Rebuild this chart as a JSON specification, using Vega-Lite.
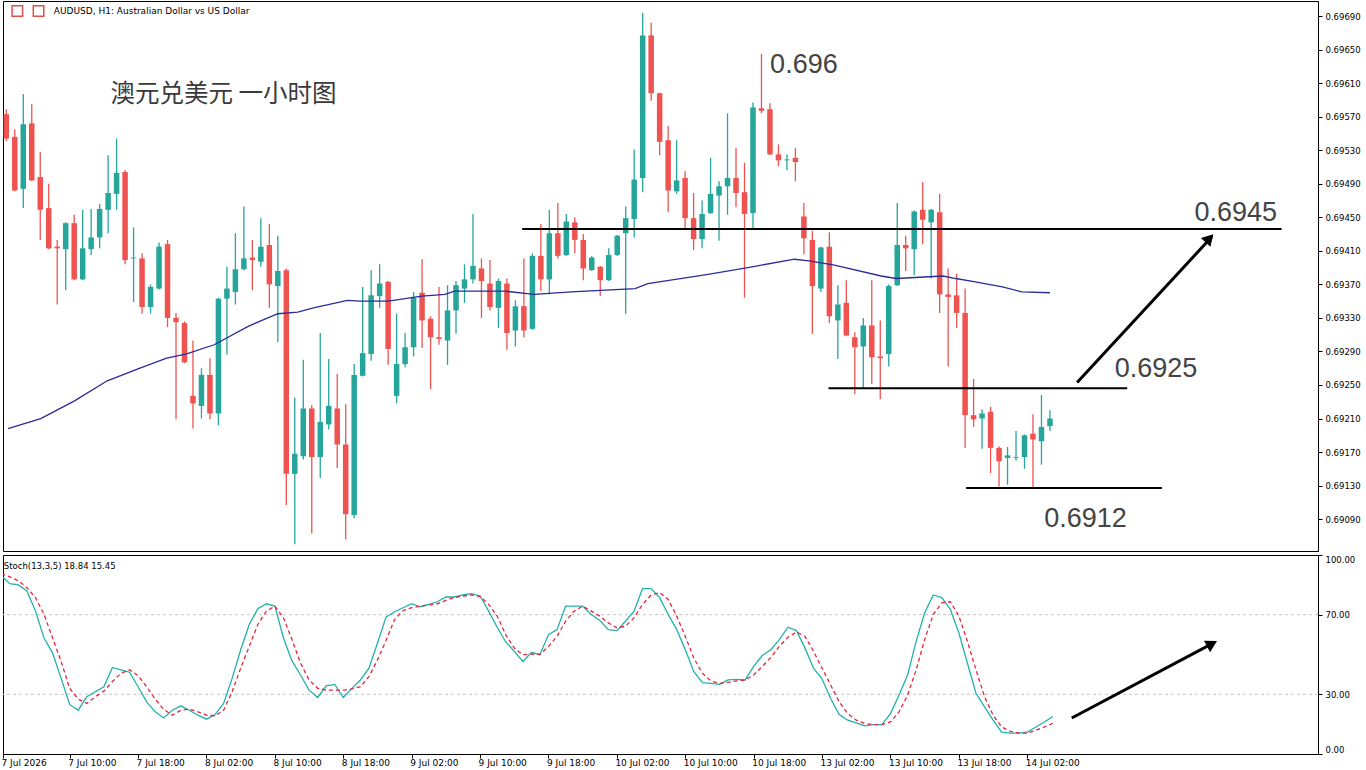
{
  "$schema": "https://vega.github.io/schema/vega-lite/v6.json",
  "padding": 0,
  "background": "#ffffff",
  "spacing": 2,
  "config": {
    "view": {"stroke": "#000000", "strokeWidth": 1},
    "axis": {
      "labelFont": "DejaVu Sans",
      "labelFontSize": 8.5,
      "labelColor": "#000000",
      "tickColor": "#000000",
      "domainColor": "#000000",
      "grid": false
    }
  },
  "datasets": {
    "bars": [
      {"i":0,"o":0.69573,"h":0.69579,"l":0.69541,"c":0.69544,"k":89.5,"d":90.7},
      {"i":1,"o":0.69546,"h":0.69555,"l":0.69481,"c":0.69482,"k":85.6,"d":89},
      {"i":2,"o":0.69484,"h":0.69597,"l":0.69461,"c":0.69561,"k":85,"d":87},
      {"i":3,"o":0.69562,"h":0.69585,"l":0.69493,"c":0.69494,"k":81.9,"d":83.6},
      {"i":4,"o":0.69498,"h":0.69528,"l":0.69423,"c":0.69459,"k":71.8,"d":78.6},
      {"i":5,"o":0.69461,"h":0.69490,"l":0.69412,"c":0.69413,"k":58.3,"d":70.1},
      {"i":6,"o":0.69415,"h":0.69423,"l":0.69346,"c":0.69413,"k":50.7,"d":58.3},
      {"i":7,"o":0.69412,"h":0.69444,"l":0.69363,"c":0.69443,"k":38,"d":46.5},
      {"i":8,"o":0.69443,"h":0.69453,"l":0.69375,"c":0.69376,"k":24.9,"d":33},
      {"i":9,"o":0.69376,"h":0.69459,"l":0.69375,"c":0.69413,"k":22,"d":27.6},
      {"i":10,"o":0.69412,"h":0.69460,"l":0.69405,"c":0.69426,"k":28.8,"d":25.4},
      {"i":11,"o":0.69426,"h":0.69466,"l":0.69413,"c":0.69460,"k":31.3,"d":28.8},
      {"i":12,"o":0.69459,"h":0.69524,"l":0.69431,"c":0.69479,"k":33.8,"d":31.6},
      {"i":13,"o":0.69478,"h":0.69544,"l":0.69459,"c":0.69503,"k":43.5,"d":36.4},
      {"i":14,"o":0.69504,"h":0.69506,"l":0.69394,"c":0.69399,"k":42.3,"d":40.6},
      {"i":15,"o":0.69401,"h":0.69438,"l":0.69349,"c":0.69402,"k":41.1,"d":42.3},
      {"i":16,"o":0.69401,"h":0.69407,"l":0.69335,"c":0.69343,"k":33.8,"d":39.4},
      {"i":17,"o":0.69343,"h":0.69370,"l":0.69335,"c":0.69367,"k":26.2,"d":33.8},
      {"i":18,"o":0.69365,"h":0.69420,"l":0.69364,"c":0.69415,"k":21.2,"d":27.6},
      {"i":19,"o":0.69418,"h":0.69423,"l":0.69319,"c":0.69330,"k":18.1,"d":22.4},
      {"i":20,"o":0.69330,"h":0.69336,"l":0.69209,"c":0.69325,"k":22,"d":19.5},
      {"i":21,"o":0.69324,"h":0.69326,"l":0.69276,"c":0.69277,"k":24.2,"d":22},
      {"i":22,"o":0.69237,"h":0.69303,"l":0.69198,"c":0.69228,"k":22,"d":22.5},
      {"i":23,"o":0.69225,"h":0.69270,"l":0.69210,"c":0.69262,"k":19.5,"d":21.2},
      {"i":24,"o":0.69262,"h":0.69282,"l":0.69209,"c":0.69216,"k":17.5,"d":19.5},
      {"i":25,"o":0.69216,"h":0.69354,"l":0.69202,"c":0.69353,"k":19.8,"d":19.2},
      {"i":26,"o":0.69353,"h":0.69391,"l":0.69286,"c":0.69365,"k":25.4,"d":22},
      {"i":27,"o":0.69361,"h":0.69431,"l":0.69346,"c":0.69388,"k":38,"d":31.3},
      {"i":28,"o":0.69388,"h":0.69463,"l":0.69387,"c":0.69401,"k":52.4,"d":43.1},
      {"i":29,"o":0.69402,"h":0.69423,"l":0.69363,"c":0.69399,"k":65.1,"d":54.1},
      {"i":30,"o":0.69397,"h":0.69449,"l":0.69391,"c":0.69415,"k":73,"d":65.1},
      {"i":31,"o":0.69417,"h":0.69442,"l":0.69342,"c":0.69370,"k":75.5,"d":71.8},
      {"i":32,"o":0.69368,"h":0.69428,"l":0.69301,"c":0.69386,"k":74.3,"d":74.3},
      {"i":33,"o":0.69387,"h":0.69389,"l":0.69107,"c":0.69144,"k":58.3,"d":68.4},
      {"i":34,"o":0.69144,"h":0.69235,"l":0.69060,"c":0.69168,"k":46.8,"d":57.5},
      {"i":35,"o":0.69165,"h":0.69280,"l":0.69161,"c":0.69222,"k":39.7,"d":45.6},
      {"i":36,"o":0.69222,"h":0.69226,"l":0.69073,"c":0.69164,"k":32.1,"d":37.2},
      {"i":37,"o":0.69164,"h":0.69312,"l":0.69139,"c":0.69206,"k":28.4,"d":33},
      {"i":38,"o":0.69203,"h":0.69281,"l":0.69197,"c":0.69225,"k":34.3,"d":32.1},
      {"i":39,"o":0.69222,"h":0.69263,"l":0.69151,"c":0.69179,"k":35,"d":32.1},
      {"i":40,"o":0.69179,"h":0.69227,"l":0.69066,"c":0.69096,"k":28.4,"d":32.1},
      {"i":41,"o":0.69095,"h":0.69275,"l":0.69091,"c":0.69262,"k":33,"d":32.7},
      {"i":42,"o":0.69261,"h":0.69367,"l":0.69260,"c":0.69288,"k":37.2,"d":33.8},
      {"i":43,"o":0.69287,"h":0.69387,"l":0.69279,"c":0.69357,"k":43.1,"d":38.9},
      {"i":44,"o":0.69356,"h":0.69394,"l":0.69342,"c":0.69371,"k":55.8,"d":47.3},
      {"i":45,"o":0.69373,"h":0.69374,"l":0.69274,"c":0.69293,"k":68.8,"d":57},
      {"i":46,"o":0.69237,"h":0.69335,"l":0.69228,"c":0.69275,"k":71.5,"d":67.6},
      {"i":47,"o":0.69275,"h":0.69312,"l":0.69271,"c":0.69295,"k":73.5,"d":72.1},
      {"i":48,"o":0.69295,"h":0.69361,"l":0.69284,"c":0.69354,"k":75.5,"d":73.5},
      {"i":49,"o":0.69360,"h":0.69400,"l":0.69294,"c":0.69327,"k":74,"d":74.3},
      {"i":50,"o":0.69329,"h":0.69332,"l":0.69245,"c":0.69307,"k":75.2,"d":74.8},
      {"i":51,"o":0.69307,"h":0.69367,"l":0.69298,"c":0.69305,"k":76.5,"d":75.5},
      {"i":52,"o":0.69303,"h":0.69369,"l":0.69274,"c":0.69339,"k":78.9,"d":77.2},
      {"i":53,"o":0.69339,"h":0.69374,"l":0.69311,"c":0.69369,"k":78.9,"d":78.6},
      {"i":54,"o":0.69365,"h":0.69394,"l":0.69348,"c":0.69376,"k":79.9,"d":79.4},
      {"i":55,"o":0.69376,"h":0.69454,"l":0.69371,"c":0.69392,"k":80.6,"d":79.9},
      {"i":56,"o":0.69389,"h":0.69401,"l":0.69330,"c":0.69374,"k":79.4,"d":79.1},
      {"i":57,"o":0.69371,"h":0.69399,"l":0.69339,"c":0.69343,"k":71.8,"d":75.2},
      {"i":58,"o":0.69342,"h":0.69377,"l":0.69318,"c":0.69374,"k":63.7,"d":69.3},
      {"i":59,"o":0.69371,"h":0.69377,"l":0.69292,"c":0.69312,"k":56.3,"d":60},
      {"i":60,"o":0.69315,"h":0.69351,"l":0.69296,"c":0.69344,"k":51.6,"d":53.2},
      {"i":61,"o":0.69344,"h":0.69401,"l":0.69307,"c":0.69315,"k":46.5,"d":49.9},
      {"i":62,"o":0.69317,"h":0.69407,"l":0.69316,"c":0.69404,"k":51,"d":50.2},
      {"i":63,"o":0.69404,"h":0.69442,"l":0.69362,"c":0.69376,"k":50,"d":50},
      {"i":64,"o":0.69376,"h":0.69459,"l":0.69358,"c":0.69431,"k":60,"d":54.1},
      {"i":65,"o":0.69431,"h":0.69467,"l":0.69401,"c":0.69404,"k":62.5,"d":59.1},
      {"i":66,"o":0.69405,"h":0.69454,"l":0.69404,"c":0.69445,"k":74.3,"d":66.7},
      {"i":67,"o":0.69444,"h":0.69450,"l":0.69407,"c":0.69423,"k":74.3,"d":71.8},
      {"i":68,"o":0.69423,"h":0.69430,"l":0.69375,"c":0.69389,"k":74.3,"d":74.3},
      {"i":69,"o":0.69387,"h":0.69404,"l":0.69386,"c":0.69402,"k":70.1,"d":71.8},
      {"i":70,"o":0.69391,"h":0.69392,"l":0.69356,"c":0.69375,"k":67.1,"d":69.3},
      {"i":71,"o":0.69375,"h":0.69413,"l":0.69374,"c":0.69405,"k":62.5,"d":65.9},
      {"i":72,"o":0.69405,"h":0.69429,"l":0.69404,"c":0.69428,"k":62,"d":63.4},
      {"i":73,"o":0.69431,"h":0.69463,"l":0.69335,"c":0.69449,"k":66.7,"d":64.2},
      {"i":74,"o":0.69448,"h":0.69531,"l":0.69426,"c":0.69495,"k":71.8,"d":68.4},
      {"i":75,"o":0.69497,"h":0.69694,"l":0.69480,"c":0.69667,"k":83.1,"d":75.2},
      {"i":76,"o":0.69667,"h":0.69682,"l":0.69589,"c":0.69598,"k":83.1,"d":79.9},
      {"i":77,"o":0.69598,"h":0.69599,"l":0.69524,"c":0.69540,"k":78.6,"d":81.1},
      {"i":78,"o":0.69542,"h":0.69559,"l":0.69456,"c":0.69482,"k":70.1,"d":77.7},
      {"i":79,"o":0.69481,"h":0.69542,"l":0.69478,"c":0.69494,"k":62.5,"d":69.3},
      {"i":80,"o":0.69497,"h":0.69505,"l":0.69437,"c":0.69449,"k":52.4,"d":59.1},
      {"i":81,"o":0.69449,"h":0.69479,"l":0.69411,"c":0.69424,"k":41.4,"d":48.2},
      {"i":82,"o":0.69424,"h":0.69470,"l":0.69413,"c":0.69454,"k":35.9,"d":40.6},
      {"i":83,"o":0.69455,"h":0.69521,"l":0.69454,"c":0.69478,"k":35.5,"d":36.7},
      {"i":84,"o":0.69476,"h":0.69493,"l":0.69422,"c":0.69487,"k":35,"d":35.5},
      {"i":85,"o":0.69487,"h":0.69574,"l":0.69453,"c":0.69497,"k":37.2,"d":36},
      {"i":86,"o":0.69497,"h":0.69533,"l":0.69462,"c":0.69479,"k":37.5,"d":36.7},
      {"i":87,"o":0.69480,"h":0.69515,"l":0.69354,"c":0.69454,"k":37.2,"d":37.2},
      {"i":88,"o":0.69455,"h":0.69587,"l":0.69437,"c":0.69581,"k":44,"d":39.7},
      {"i":89,"o":0.69580,"h":0.69645,"l":0.69574,"c":0.69577,"k":49.5,"d":44},
      {"i":90,"o":0.69579,"h":0.69586,"l":0.69524,"c":0.69525,"k":52.4,"d":48.5},
      {"i":91,"o":0.69525,"h":0.69537,"l":0.69511,"c":0.69518,"k":57.5,"d":54.1},
      {"i":92,"o":0.69518,"h":0.69525,"l":0.69506,"c":0.69519,"k":63.7,"d":58.6},
      {"i":93,"o":0.69521,"h":0.69533,"l":0.69493,"c":0.69516,"k":62,"d":61.3},
      {"i":94,"o":0.69451,"h":0.69467,"l":0.69406,"c":0.69425,"k":53.2,"d":59.1},
      {"i":95,"o":0.69423,"h":0.69434,"l":0.69311,"c":0.69368,"k":43.1,"d":51.6},
      {"i":96,"o":0.69365,"h":0.69415,"l":0.69361,"c":0.69414,"k":37.7,"d":43.1},
      {"i":97,"o":0.69415,"h":0.69432,"l":0.69324,"c":0.69332,"k":27.9,"d":34.7},
      {"i":98,"o":0.69327,"h":0.69369,"l":0.69281,"c":0.69346,"k":19.8,"d":26.2},
      {"i":99,"o":0.69348,"h":0.69375,"l":0.69308,"c":0.69309,"k":17,"d":20.3},
      {"i":100,"o":0.69307,"h":0.69313,"l":0.69239,"c":0.69295,"k":15.6,"d":17},
      {"i":101,"o":0.69296,"h":0.69330,"l":0.69246,"c":0.69321,"k":14.1,"d":15.3},
      {"i":102,"o":0.69321,"h":0.69375,"l":0.69251,"c":0.69283,"k":14.8,"d":14.8},
      {"i":103,"o":0.69284,"h":0.69327,"l":0.69233,"c":0.69282,"k":14.8,"d":14.8},
      {"i":104,"o":0.69287,"h":0.69370,"l":0.69272,"c":0.69368,"k":20.3,"d":16.1},
      {"i":105,"o":0.69369,"h":0.69467,"l":0.69368,"c":0.69417,"k":29.6,"d":21.2},
      {"i":106,"o":0.69417,"h":0.69428,"l":0.69386,"c":0.69413,"k":39.7,"d":29.6},
      {"i":107,"o":0.69412,"h":0.69458,"l":0.69381,"c":0.69457,"k":56.6,"d":42.3},
      {"i":108,"o":0.69459,"h":0.69492,"l":0.69418,"c":0.69447,"k":71,"d":57.5},
      {"i":109,"o":0.69444,"h":0.69460,"l":0.69377,"c":0.69459,"k":79.9,"d":70.1},
      {"i":110,"o":0.69456,"h":0.69478,"l":0.69336,"c":0.69358,"k":78.6,"d":76},
      {"i":111,"o":0.69358,"h":0.69389,"l":0.69272,"c":0.69355,"k":72.7,"d":76.5},
      {"i":112,"o":0.69357,"h":0.69383,"l":0.69318,"c":0.69336,"k":60.8,"d":69.3},
      {"i":113,"o":0.69336,"h":0.69365,"l":0.69175,"c":0.69214,"k":45.6,"d":56.6},
      {"i":114,"o":0.69214,"h":0.69257,"l":0.69200,"c":0.69209,"k":30.5,"d":42.3},
      {"i":115,"o":0.69210,"h":0.69221,"l":0.69174,"c":0.69216,"k":23.7,"d":28.8},
      {"i":116,"o":0.69218,"h":0.69224,"l":0.69145,"c":0.69175,"k":17,"d":19.5},
      {"i":117,"o":0.69175,"h":0.69177,"l":0.69129,"c":0.69159,"k":11,"d":13.6},
      {"i":118,"o":0.69163,"h":0.69176,"l":0.69131,"c":0.69166,"k":10.5,"d":11.4},
      {"i":119,"o":0.69163,"h":0.69195,"l":0.69160,"c":0.69164,"k":10.5,"d":10.5},
      {"i":120,"o":0.69164,"h":0.69191,"l":0.69150,"c":0.69190,"k":11,"d":10.5},
      {"i":121,"o":0.69192,"h":0.69215,"l":0.69126,"c":0.69185,"k":13.6,"d":11.9},
      {"i":122,"o":0.69183,"h":0.69238,"l":0.69155,"c":0.69200,"k":16.1,"d":13.6},
      {"i":123,"o":0.69201,"h":0.69220,"l":0.69195,"c":0.69210,"k":18.84,"d":15.45}
    ],
    "ma": [
      {"i":0.2,"p":0.69198},{"i":4.06,"p":0.69210},{"i":8.04,"p":0.69231},{"i":11.9,"p":0.69255},
      {"i":15.75,"p":0.69270},{"i":18.9,"p":0.69282},{"i":21.25,"p":0.69287},{"i":24.5,"p":0.69298},
      {"i":28.5,"p":0.69320},{"i":32.0,"p":0.69335},{"i":34.35,"p":0.69337},{"i":36.2,"p":0.69342},
      {"i":40.2,"p":0.69351},{"i":41.7,"p":0.69350},{"i":45.0,"p":0.69350},{"i":49.0,"p":0.69356},
      {"i":51.7,"p":0.69358},{"i":52.8,"p":0.69362},{"i":58.7,"p":0.69362},{"i":62.2,"p":0.69358},
      {"i":66.6,"p":0.69361},{"i":74.1,"p":0.69365},{"i":75.6,"p":0.69371},{"i":82.7,"p":0.69382},
      {"i":87.9,"p":0.69391},{"i":92.9,"p":0.69400},{"i":94.6,"p":0.69398},{"i":97.6,"p":0.69393},
      {"i":103.1,"p":0.69380},{"i":104.9,"p":0.69377},{"i":110.4,"p":0.69380},{"i":111.9,"p":0.69377},
      {"i":114.2,"p":0.69373},{"i":117.4,"p":0.69367},{"i":119.7,"p":0.69361},{"i":123.0,"p":0.69360}
    ],
    "levels": [
      {"i1":60.8,"i2":150.3,"p":0.69436},
      {"i1":96.9,"i2":132.1,"p":0.69246},
      {"i1":113.1,"i2":136.2,"p":0.69127}
    ],
    "arrowUp": [{"i1":126.2,"p1":0.69253,"i2":142.1,"p2":0.69427,"hi":141.8,"hp":0.69425}],
    "notes": [
      {"i":94.0,"p":0.69632,"t":"0.696"},
      {"i":144.9,"p":0.69455,"t":"0.6945"},
      {"i":135.5,"p":0.69269,"t":"0.6925"},
      {"i":127.2,"p":0.69090,"t":"0.6912"}
    ],
    "heading": [{"i":25.6,"p":0.69596,"t":"澳元兑美元 一小时图"}],
    "header": [{"i":5.6,"p":0.69696,"t":"AUDUSD, H1:  Australian Dollar vs US Dollar"}],
    "icons": [{"i":1.3,"p":0.69696},{"i":3.8,"p":0.69696}],
    "stochLevels": [{"v":30},{"v":70}],
    "stochNote": [{"i":0.3,"v":94.5,"t":"Stoch(13,3,5) 18.84 15.45"}],
    "arrowStoch": [{"i1":125.2,"v1":18.1,"i2":141.9,"v2":56.1,"hi":141.6,"hv":55.4}]
  },
  "vconcat": [
    {
      "width": 1315,
      "height": 550,
      "layer": [
        {
          "data": {"name": "bars"},
          "mark": {"type": "rule", "strokeWidth": 1.3, "clip": true},
          "encoding": {
            "x": {"field": "i", "type": "quantitative", "scale": {"domain": [0.2, 154], "nice": false, "zero": false}, "axis": null},
            "y": {"field": "l", "type": "quantitative", "scale": {"domain": [0.69052, 0.69708], "nice": false, "zero": false},
              "axis": {"orient": "right", "title": null, "format": ".5f", "values": [0.6909, 0.6913, 0.6917, 0.6921, 0.6925, 0.6929, 0.6933, 0.6937, 0.6941, 0.6945, 0.6949, 0.6953, 0.6957, 0.6961, 0.6965, 0.6969], "tickSize": 4, "labelPadding": 3, "labelFlush": false, "labelOverlap": false}},
            "y2": {"field": "h"},
            "color": {"condition": {"test": "datum.c >= datum.o", "value": "#26a69a"}, "value": "#ef5350"}
          }
        },
        {
          "data": {"name": "bars"},
          "mark": {"type": "bar", "size": 5.5, "clip": true},
          "encoding": {
            "x": {"field": "i", "type": "quantitative", "scale": {"domain": [0.2, 154], "nice": false, "zero": false}, "axis": null},
            "y": {"field": "o", "type": "quantitative", "scale": {"domain": [0.69052, 0.69708], "nice": false, "zero": false},
              "axis": {"orient": "right", "title": null, "format": ".5f", "values": [0.6909, 0.6913, 0.6917, 0.6921, 0.6925, 0.6929, 0.6933, 0.6937, 0.6941, 0.6945, 0.6949, 0.6953, 0.6957, 0.6961, 0.6965, 0.6969], "tickSize": 4, "labelPadding": 3, "labelFlush": false, "labelOverlap": false}},
            "y2": {"field": "c"},
            "color": {"condition": {"test": "datum.c >= datum.o", "value": "#26a69a"}, "value": "#ef5350"}
          }
        },
        {
          "data": {"name": "ma"},
          "mark": {"type": "line", "color": "#2b2b9c", "strokeWidth": 1.3, "clip": true},
          "encoding": {
            "x": {"field": "i", "type": "quantitative", "scale": {"domain": [0.2, 154], "nice": false, "zero": false}, "axis": null},
            "y": {"field": "p", "type": "quantitative", "scale": {"domain": [0.69052, 0.69708], "nice": false, "zero": false},
              "axis": {"orient": "right", "title": null, "format": ".5f", "values": [0.6909, 0.6913, 0.6917, 0.6921, 0.6925, 0.6929, 0.6933, 0.6937, 0.6941, 0.6945, 0.6949, 0.6953, 0.6957, 0.6961, 0.6965, 0.6969], "tickSize": 4, "labelPadding": 3, "labelFlush": false, "labelOverlap": false}}
          }
        },
        {
          "data": {"name": "levels"},
          "mark": {"type": "rule", "color": "#000000", "strokeWidth": 2},
          "encoding": {
            "x": {"field": "i1", "type": "quantitative", "scale": {"domain": [0.2, 154], "nice": false, "zero": false}, "axis": null},
            "x2": {"field": "i2"},
            "y": {"field": "p", "type": "quantitative", "scale": {"domain": [0.69052, 0.69708], "nice": false, "zero": false},
              "axis": {"orient": "right", "title": null, "format": ".5f", "values": [0.6909, 0.6913, 0.6917, 0.6921, 0.6925, 0.6929, 0.6933, 0.6937, 0.6941, 0.6945, 0.6949, 0.6953, 0.6957, 0.6961, 0.6965, 0.6969], "tickSize": 4, "labelPadding": 3, "labelFlush": false, "labelOverlap": false}}
          }
        },
        {
          "data": {"name": "arrowUp"},
          "mark": {"type": "rule", "color": "#000000", "strokeWidth": 3},
          "encoding": {
            "x": {"field": "i1", "type": "quantitative", "scale": {"domain": [0.2, 154], "nice": false, "zero": false}, "axis": null},
            "x2": {"field": "i2"},
            "y": {"field": "p1", "type": "quantitative", "scale": {"domain": [0.69052, 0.69708], "nice": false, "zero": false},
              "axis": {"orient": "right", "title": null, "format": ".5f", "values": [0.6909, 0.6913, 0.6917, 0.6921, 0.6925, 0.6929, 0.6933, 0.6937, 0.6941, 0.6945, 0.6949, 0.6953, 0.6957, 0.6961, 0.6965, 0.6969], "tickSize": 4, "labelPadding": 3, "labelFlush": false, "labelOverlap": false}},
            "y2": {"field": "p2"}
          }
        },
        {
          "data": {"name": "arrowUp"},
          "mark": {"type": "point", "shape": "triangle-up", "filled": true, "color": "#000000", "opacity": 1, "size": 170, "angle": 43},
          "encoding": {
            "x": {"field": "hi", "type": "quantitative", "scale": {"domain": [0.2, 154], "nice": false, "zero": false}, "axis": null},
            "y": {"field": "hp", "type": "quantitative", "scale": {"domain": [0.69052, 0.69708], "nice": false, "zero": false},
              "axis": {"orient": "right", "title": null, "format": ".5f", "values": [0.6909, 0.6913, 0.6917, 0.6921, 0.6925, 0.6929, 0.6933, 0.6937, 0.6941, 0.6945, 0.6949, 0.6953, 0.6957, 0.6961, 0.6965, 0.6969], "tickSize": 4, "labelPadding": 3, "labelFlush": false, "labelOverlap": false}}
          }
        },
        {
          "data": {"name": "notes"},
          "mark": {"type": "text", "font": "Liberation Sans", "fontSize": 27, "color": "#444444", "align": "center", "baseline": "middle"},
          "encoding": {
            "x": {"field": "i", "type": "quantitative", "scale": {"domain": [0.2, 154], "nice": false, "zero": false}, "axis": null},
            "y": {"field": "p", "type": "quantitative", "scale": {"domain": [0.69052, 0.69708], "nice": false, "zero": false},
              "axis": {"orient": "right", "title": null, "format": ".5f", "values": [0.6909, 0.6913, 0.6917, 0.6921, 0.6925, 0.6929, 0.6933, 0.6937, 0.6941, 0.6945, 0.6949, 0.6953, 0.6957, 0.6961, 0.6965, 0.6969], "tickSize": 4, "labelPadding": 3, "labelFlush": false, "labelOverlap": false}},
            "text": {"field": "t"}
          }
        },
        {
          "data": {"name": "heading"},
          "mark": {"type": "text", "font": "Noto Sans CJK SC", "fontSize": 24.5, "color": "#3a3a3a", "align": "center", "baseline": "middle"},
          "encoding": {
            "x": {"field": "i", "type": "quantitative", "scale": {"domain": [0.2, 154], "nice": false, "zero": false}, "axis": null},
            "y": {"field": "p", "type": "quantitative", "scale": {"domain": [0.69052, 0.69708], "nice": false, "zero": false},
              "axis": {"orient": "right", "title": null, "format": ".5f", "values": [0.6909, 0.6913, 0.6917, 0.6921, 0.6925, 0.6929, 0.6933, 0.6937, 0.6941, 0.6945, 0.6949, 0.6953, 0.6957, 0.6961, 0.6965, 0.6969], "tickSize": 4, "labelPadding": 3, "labelFlush": false, "labelOverlap": false}},
            "text": {"field": "t"}
          }
        },
        {
          "data": {"name": "header"},
          "mark": {"type": "text", "font": "DejaVu Sans", "fontSize": 9, "color": "#000000", "align": "left", "baseline": "middle"},
          "encoding": {
            "x": {"field": "i", "type": "quantitative", "scale": {"domain": [0.2, 154], "nice": false, "zero": false}, "axis": null},
            "y": {"field": "p", "type": "quantitative", "scale": {"domain": [0.69052, 0.69708], "nice": false, "zero": false},
              "axis": {"orient": "right", "title": null, "format": ".5f", "values": [0.6909, 0.6913, 0.6917, 0.6921, 0.6925, 0.6929, 0.6933, 0.6937, 0.6941, 0.6945, 0.6949, 0.6953, 0.6957, 0.6961, 0.6965, 0.6969], "tickSize": 4, "labelPadding": 3, "labelFlush": false, "labelOverlap": false}},
            "text": {"field": "t"}
          }
        },
        {
          "data": {"name": "icons"},
          "mark": {"type": "point", "shape": "square", "filled": false, "color": "#e0504a", "strokeWidth": 1.5, "opacity": 1, "size": 110},
          "encoding": {
            "x": {"field": "i", "type": "quantitative", "scale": {"domain": [0.2, 154], "nice": false, "zero": false}, "axis": null},
            "y": {"field": "p", "type": "quantitative", "scale": {"domain": [0.69052, 0.69708], "nice": false, "zero": false},
              "axis": {"orient": "right", "title": null, "format": ".5f", "values": [0.6909, 0.6913, 0.6917, 0.6921, 0.6925, 0.6929, 0.6933, 0.6937, 0.6941, 0.6945, 0.6949, 0.6953, 0.6957, 0.6961, 0.6965, 0.6969], "tickSize": 4, "labelPadding": 3, "labelFlush": false, "labelOverlap": false}}
          }
        }
      ]
    },
    {
      "width": 1315,
      "height": 199,
      "layer": [
        {
          "data": {"name": "stochLevels"},
          "mark": {"type": "rule", "color": "#c4c4c4", "strokeDash": [3, 3], "strokeWidth": 1},
          "encoding": {
            "y": {"field": "v", "type": "quantitative", "scale": {"domain": [0, 100], "nice": false, "zero": false},
              "axis": {"orient": "right", "title": null, "values": [0, 30, 70, 100], "format": ".2f", "tickSize": 4, "labelPadding": 3, "labelFlush": true, "labelOverlap": false}}
          }
        },
        {
          "data": {"name": "bars"},
          "mark": {"type": "line", "color": "#20b2aa", "strokeWidth": 1.3, "clip": true},
          "encoding": {
            "x": {"field": "i", "type": "quantitative", "scale": {"domain": [0.2, 154], "nice": false, "zero": false},
              "axis": {"title": null, "values": [0.2, 8, 16, 24, 32, 40, 48, 56, 64, 72, 80, 88, 96, 104, 112, 120], "labelExpr": "['7 Jul 2026','7 Jul 10:00','7 Jul 18:00','8 Jul 02:00','8 Jul 10:00','8 Jul 18:00','9 Jul 02:00','9 Jul 10:00','9 Jul 18:00','10 Jul 02:00','10 Jul 10:00','10 Jul 18:00','13 Jul 02:00','13 Jul 10:00','13 Jul 18:00','14 Jul 02:00'][round(datum.value / 8)]", "labelFontSize": 9, "labelAlign": "left", "labelBaseline": "top", "labelPadding": 0, "labelOffset": -2, "tickSize": 4, "labelFlush": false, "labelOverlap": false}},
            "y": {"field": "k", "type": "quantitative", "scale": {"domain": [0, 100], "nice": false, "zero": false},
              "axis": {"orient": "right", "title": null, "values": [0, 30, 70, 100], "format": ".2f", "tickSize": 4, "labelPadding": 3, "labelFlush": true, "labelOverlap": false}}
          }
        },
        {
          "data": {"name": "bars"},
          "mark": {"type": "line", "color": "#e3263a", "strokeWidth": 1.3, "strokeDash": [4, 3], "clip": true},
          "encoding": {
            "x": {"field": "i", "type": "quantitative", "scale": {"domain": [0.2, 154], "nice": false, "zero": false},
              "axis": {"title": null, "values": [0.2, 8, 16, 24, 32, 40, 48, 56, 64, 72, 80, 88, 96, 104, 112, 120], "labelExpr": "['7 Jul 2026','7 Jul 10:00','7 Jul 18:00','8 Jul 02:00','8 Jul 10:00','8 Jul 18:00','9 Jul 02:00','9 Jul 10:00','9 Jul 18:00','10 Jul 02:00','10 Jul 10:00','10 Jul 18:00','13 Jul 02:00','13 Jul 10:00','13 Jul 18:00','14 Jul 02:00'][round(datum.value / 8)]", "labelFontSize": 9, "labelAlign": "left", "labelBaseline": "top", "labelPadding": 0, "labelOffset": -2, "tickSize": 4, "labelFlush": false, "labelOverlap": false}},
            "y": {"field": "d", "type": "quantitative", "scale": {"domain": [0, 100], "nice": false, "zero": false},
              "axis": {"orient": "right", "title": null, "values": [0, 30, 70, 100], "format": ".2f", "tickSize": 4, "labelPadding": 3, "labelFlush": true, "labelOverlap": false}}
          }
        },
        {
          "data": {"name": "stochNote"},
          "mark": {"type": "text", "font": "DejaVu Sans", "fontSize": 8.5, "color": "#000000", "align": "left", "baseline": "middle"},
          "encoding": {
            "x": {"field": "i", "type": "quantitative", "scale": {"domain": [0.2, 154], "nice": false, "zero": false},
              "axis": {"title": null, "values": [0.2, 8, 16, 24, 32, 40, 48, 56, 64, 72, 80, 88, 96, 104, 112, 120], "labelExpr": "['7 Jul 2026','7 Jul 10:00','7 Jul 18:00','8 Jul 02:00','8 Jul 10:00','8 Jul 18:00','9 Jul 02:00','9 Jul 10:00','9 Jul 18:00','10 Jul 02:00','10 Jul 10:00','10 Jul 18:00','13 Jul 02:00','13 Jul 10:00','13 Jul 18:00','14 Jul 02:00'][round(datum.value / 8)]", "labelFontSize": 9, "labelAlign": "left", "labelBaseline": "top", "labelPadding": 0, "labelOffset": -2, "tickSize": 4, "labelFlush": false, "labelOverlap": false}},
            "y": {"field": "v", "type": "quantitative", "scale": {"domain": [0, 100], "nice": false, "zero": false},
              "axis": {"orient": "right", "title": null, "values": [0, 30, 70, 100], "format": ".2f", "tickSize": 4, "labelPadding": 3, "labelFlush": true, "labelOverlap": false}},
            "text": {"field": "t"}
          }
        },
        {
          "data": {"name": "arrowStoch"},
          "mark": {"type": "rule", "color": "#000000", "strokeWidth": 3},
          "encoding": {
            "x": {"field": "i1", "type": "quantitative", "scale": {"domain": [0.2, 154], "nice": false, "zero": false},
              "axis": {"title": null, "values": [0.2, 8, 16, 24, 32, 40, 48, 56, 64, 72, 80, 88, 96, 104, 112, 120], "labelExpr": "['7 Jul 2026','7 Jul 10:00','7 Jul 18:00','8 Jul 02:00','8 Jul 10:00','8 Jul 18:00','9 Jul 02:00','9 Jul 10:00','9 Jul 18:00','10 Jul 02:00','10 Jul 10:00','10 Jul 18:00','13 Jul 02:00','13 Jul 10:00','13 Jul 18:00','14 Jul 02:00'][round(datum.value / 8)]", "labelFontSize": 9, "labelAlign": "left", "labelBaseline": "top", "labelPadding": 0, "labelOffset": -2, "tickSize": 4, "labelFlush": false, "labelOverlap": false}},
            "x2": {"field": "i2"},
            "y": {"field": "v1", "type": "quantitative", "scale": {"domain": [0, 100], "nice": false, "zero": false},
              "axis": {"orient": "right", "title": null, "values": [0, 30, 70, 100], "format": ".2f", "tickSize": 4, "labelPadding": 3, "labelFlush": true, "labelOverlap": false}},
            "y2": {"field": "v2"}
          }
        },
        {
          "data": {"name": "arrowStoch"},
          "mark": {"type": "point", "shape": "triangle-up", "filled": true, "color": "#000000", "opacity": 1, "size": 170, "angle": 62},
          "encoding": {
            "x": {"field": "hi", "type": "quantitative", "scale": {"domain": [0.2, 154], "nice": false, "zero": false},
              "axis": {"title": null, "values": [0.2, 8, 16, 24, 32, 40, 48, 56, 64, 72, 80, 88, 96, 104, 112, 120], "labelExpr": "['7 Jul 2026','7 Jul 10:00','7 Jul 18:00','8 Jul 02:00','8 Jul 10:00','8 Jul 18:00','9 Jul 02:00','9 Jul 10:00','9 Jul 18:00','10 Jul 02:00','10 Jul 10:00','10 Jul 18:00','13 Jul 02:00','13 Jul 10:00','13 Jul 18:00','14 Jul 02:00'][round(datum.value / 8)]", "labelFontSize": 9, "labelAlign": "left", "labelBaseline": "top", "labelPadding": 0, "labelOffset": -2, "tickSize": 4, "labelFlush": false, "labelOverlap": false}},
            "y": {"field": "hv", "type": "quantitative", "scale": {"domain": [0, 100], "nice": false, "zero": false},
              "axis": {"orient": "right", "title": null, "values": [0, 30, 70, 100], "format": ".2f", "tickSize": 4, "labelPadding": 3, "labelFlush": true, "labelOverlap": false}}
          }
        }
      ]
    }
  ]
}
